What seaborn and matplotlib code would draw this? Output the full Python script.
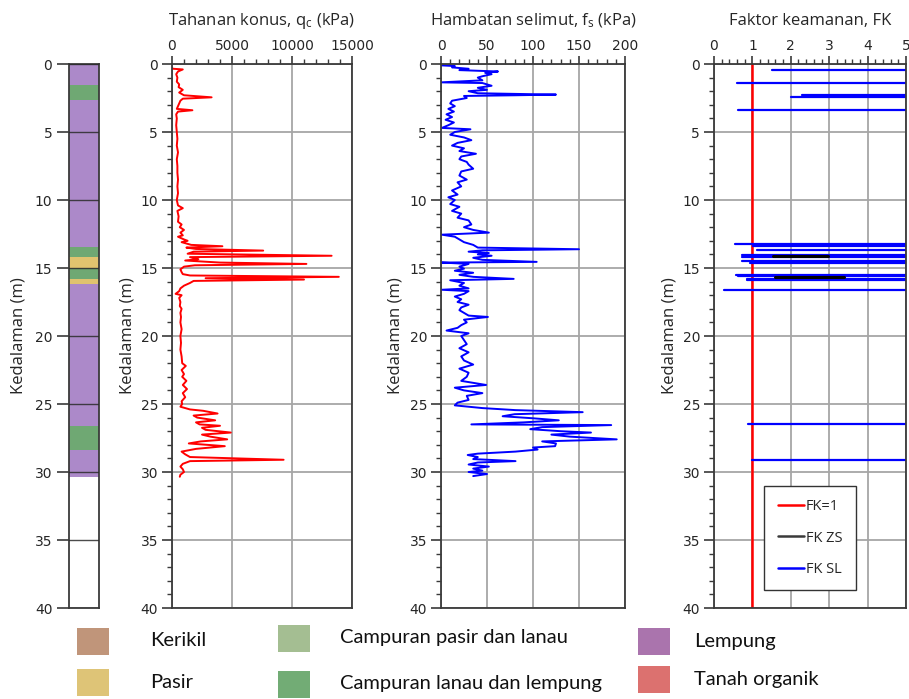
import numpy as np
import pandas as pd
import matplotlib
matplotlib.use("Agg")
import matplotlib.pyplot as plt
import seaborn as sns
from matplotlib.patches import Rectangle
from matplotlib.lines import Line2D
from matplotlib.ticker import MultipleLocator

# ---------------- data ----------------
layer_top = [0.0, 1.55, 2.65, 13.47, 14.2, 14.97, 15.8, 16.2, 26.6, 28.4]
layer_bot = [1.55, 2.65, 13.47, 14.2, 14.97, 15.8, 16.2, 26.6, 28.4, 30.4]
layer_type = ["Lempung", "Campuran lanau dan lempung", "Lempung",
              "Campuran lanau dan lempung", "Pasir", "Campuran lanau dan lempung",
              "Pasir", "Lempung", "Campuran lanau dan lempung", "Lempung"]

qc_depth = [0.30, 0.35, 0.40, 0.55, 0.75, 1.0, 1.3, 1.5, 1.7, 1.9, 2.1, 2.3, 2.45, 2.55, 2.7,
            2.9, 3.1, 3.3, 3.4, 3.5, 3.7, 4.0, 4.5, 5.0, 5.5, 6.0, 6.5, 7.0, 7.5, 8.0, 8.5,
            9.0, 9.5, 10.0, 10.4, 10.6, 10.8, 11.2, 11.6, 11.8, 12.0, 12.2, 12.4, 12.6, 12.7,
            12.9, 13.0, 13.1, 13.3, 13.4, 13.5, 13.6, 13.72, 13.8, 13.95, 14.1, 14.2, 14.35,
            14.45, 14.6, 14.7, 14.8, 14.9, 15.1, 15.3, 15.45, 15.55, 15.65, 15.75, 15.85,
            15.95, 16.1, 16.3, 16.5, 16.7, 16.9, 17.0, 17.2, 17.5, 17.8, 18.0, 18.3, 18.6,
            19.0, 19.5, 20.0, 20.5, 21.0, 21.5, 22.0, 22.2, 22.5, 22.8, 23.0, 23.3, 23.6,
            23.9, 24.2, 24.5, 24.8, 25.0, 25.2, 25.4, 25.5, 25.7, 25.85, 26.0, 26.2, 26.35,
            26.5, 26.6, 26.75, 26.9, 27.1, 27.25, 27.4, 27.6, 27.75, 27.9, 28.1, 28.3, 28.5,
            28.7, 28.9, 29.1, 29.2, 29.4, 29.6, 29.8, 30.0, 30.2, 30.35]
qc_kpa = [0, 100, 900, 500, 350, 450, 400, 600, 550, 900, 600, 1000, 3300, 900, 700,
          600, 500, 400, 1700, 500, 350, 400, 350, 400, 450, 400, 500, 400, 450, 450, 500,
          450, 500, 400, 500, 900, 450, 550, 500, 800, 650, 1000, 700, 900, 500,
          1000, 1300, 800, 1600, 4200, 1200, 2000, 7600, 1800, 1300, 13300, 1500, 2200,
          1100, 4000, 11200, 1900, 1000, 700, 800, 900, 1500, 13900, 2800, 11000,
          1800, 1500, 1000, 700, 600, 300, 800, 600, 700, 650, 800, 700, 750,
          700, 800, 700, 750, 700, 800, 850, 1150, 800, 1000, 850, 1200, 900,
          1250, 900, 1100, 800, 850, 700, 1500, 2600, 3800, 1800, 2100, 3600, 2000,
          2300, 4000, 2500, 2800, 4900, 2500, 3200, 4600, 2400, 1400, 4400, 2000, 800,
          1100, 1500, 9300, 1500, 900, 700, 900, 1000, 700, 650]

fs_depth = [0.10, 0.15, 0.25, 0.35, 0.45, 0.55, 0.65, 0.75, 0.9, 1.0, 1.2, 1.35, 1.4, 1.6,
            1.75, 1.9, 2.0, 2.15, 2.25, 2.3, 2.35, 2.5, 2.7, 2.9, 3.1, 3.3, 3.5, 3.7, 3.9,
            4.1, 4.3, 4.5, 4.7, 4.8, 5.0, 5.2, 5.4, 5.6, 5.8, 6.0, 6.2, 6.4, 6.6, 6.8, 7.0,
            7.2, 7.4, 7.7, 7.9, 8.2, 8.5, 8.7, 9.0, 9.3, 9.6, 9.8, 10.0, 10.3, 10.5, 10.8,
            11.0, 11.3, 11.5, 11.8, 12.0, 12.2, 12.4, 12.55, 12.7, 12.9, 13.1, 13.3, 13.5,
            13.62, 13.7, 13.8, 13.9, 14.0, 14.1, 14.25, 14.4, 14.55, 14.6, 14.7, 14.9,
            15.05, 15.2, 15.35, 15.5, 15.65, 15.8, 15.9, 16.1, 16.3, 16.5, 16.6, 16.7,
            16.9, 17.1, 17.3, 17.5, 17.7, 17.9, 18.1, 18.3, 18.5, 18.6, 18.8, 19.0, 19.2,
            19.4, 19.6, 19.8, 20.0, 20.3, 20.6, 20.9, 21.2, 21.5, 21.8, 22.1, 22.4, 22.7,
            23.0, 23.3, 23.6, 23.8, 24.0, 24.2, 24.4, 24.7, 24.9, 25.1, 25.3, 25.45, 25.6,
            25.75, 25.9, 26.05, 26.2, 26.35, 26.5, 26.55, 26.7, 26.85, 27.0, 27.1, 27.25,
            27.4, 27.6, 27.75, 27.9, 28.1, 28.2, 28.35, 28.5, 28.65, 28.75, 28.9, 29.05,
            29.2, 29.3, 29.45, 29.6, 29.75, 29.9, 30.0, 30.15, 30.3]
fs_kpa = [0, 15, 12, 30, 20, 62, 48, 55, 45, 40, 45, 0, 45, 55,
          40, 50, 30, 40, 125, 80, 25, 28, 12, 10, 15, 8, 14, 6, 12,
          5, 14, 8, 1, 32, 15, 10, 25, 33, 18, 12, 25, 20, 38, 22, 20,
          28, 30, 35, 22, 20, 28, 18, 22, 12, 18, 8, 15, 10, 20, 12,
          22, 18, 30, 33, 25, 35, 52, 1, 15, 20, 25, 35, 40,
          150, 45, 30, 52, 40, 55, 35, 45, 104, 1, 30, 20,
          25, 15, 35, 20, 35, 79, 10, 25, 20, 30, 1, 30,
          25, 15, 22, 18, 30, 22, 20, 25, 30, 51, 25, 28, 22,
          18, 6, 30, 22, 25, 28, 20, 30, 22, 25, 35, 20, 30,
          28, 22, 49, 15, 25, 45, 28, 30, 18, 15, 45, 81, 154,
          80, 67, 100, 128, 90, 33, 185, 110, 97, 130, 163, 120,
          140, 191, 110, 125, 124, 100, 105, 81, 40, 29, 40, 35,
          81, 40, 30, 52, 35, 45, 30, 50, 35]

fk_sl_depth = [0.42, 1.42, 2.30, 2.40, 3.38, 13.21, 13.41, 13.65, 14.07, 14.20, 14.50,
               14.62, 15.50, 15.60, 15.80, 15.88, 16.62, 26.50, 29.15]
fk_sl_min = [1.50, 0.59, 2.30, 2.00, 0.63, 0.54, 1.02, 1.12, 0.74, 0.72, 0.73,
             0.94, 0.57, 0.62, 0.85, 0.85, 0.26, 0.89, 1.00]
fk_zs_depth = [14.10, 15.63]
fk_zs_min = [1.54, 1.58]
fk_zs_max = [2.96, 3.39]
fk_limit = 1.0

legend_names = ["Kerikil", "Pasir", "Campuran pasir dan lanau",
                "Campuran lanau dan lempung", "Lempung", "Tanah organik"]
legend_colors = ["#C0957A", "#DEC477", "#A4BE92", "#72AC75", "#AA74AD", "#DC716F"]
column_colors = {"Lempung": "#AC89C9", "Campuran lanau dan lempung": "#6FA873",
                 "Pasir": "#E0C36F"}

# ---------------- style ----------------
sns.set_theme(style="white")
plt.rcParams["font.family"] = ["Open Sans", "DejaVu Sans"]
plt.rcParams["mathtext.fontset"] = "custom"
plt.rcParams["mathtext.rm"] = "Open Sans"
plt.rcParams["mathtext.it"] = "Open Sans:italic"

W, H = 909, 699
fig = plt.figure(figsize=(W / 100, H / 100), dpi=100)
TOP, BOT = 64, 608

def add_ax(left, right):
    return fig.add_axes([left / W, 1 - BOT / H, (right - left) / W, (BOT - TOP) / H])

SPINE = "#3a3a3a"
TICK_FS = 10
LABEL_FS = 12

def style_depth_axis(ax, minor=True):
    ax.set_ylim(40, 0)
    ax.yaxis.set_major_locator(MultipleLocator(5))
    if minor:
        ax.yaxis.set_minor_locator(MultipleLocator(1))
    for s in ax.spines.values():
        s.set_color(SPINE)
        s.set_linewidth(1.3)
        s.set_visible(True)
    ax.tick_params(axis="y", which="major", direction="out", length=7, width=1.2,
                   color=SPINE, left=True, labelleft=True, pad=3)
    ax.tick_params(axis="y", which="minor", direction="out", length=3.5, width=1.0,
                   color=SPINE, left=True)
    for lab in ax.get_yticklabels():
        lab.set_fontfamily("DejaVu Sans")
        lab.set_fontsize(TICK_FS)
    ax.set_ylabel("Kedalaman (m)", fontsize=LABEL_FS)

def style_top_x(ax, xmax, major, minor, title):
    ax.set_xlim(0, xmax)
    ax.xaxis.set_major_locator(MultipleLocator(major))
    ax.xaxis.set_minor_locator(MultipleLocator(minor))
    ax.xaxis.tick_top()
    ax.tick_params(axis="x", which="major", direction="out", length=6, width=1.2,
                   color=SPINE, top=True, bottom=False, labeltop=True,
                   labelbottom=False, pad=2)
    ax.tick_params(axis="x", which="minor", direction="out", length=3.5, width=1.0,
                   color=SPINE, top=True, bottom=False)
    for lab in ax.get_xticklabels():
        lab.set_fontfamily("DejaVu Sans")
        lab.set_fontsize(TICK_FS)
    ax.xaxis.set_label_position("top")
    ax.set_xlabel(title, fontsize=LABEL_FS)
    ax.xaxis.set_label_coords(0.5, 1 + (TOP - 25) / (BOT - TOP))
    ax.grid(True, which="major", color="#a6a6a6", linewidth=1.3)
    ax.set_axisbelow(True)

# ---------------- soil column ----------------
ax0 = add_ax(69, 99)
for t, b, kind in zip(layer_top, layer_bot, layer_type):
    ax0.bar(0.5, b - t, bottom=t, width=1.0, color=column_colors[kind],
            linewidth=0, zorder=1)
ax0.set_xlim(0, 1)
ax0.set_xticks([])
style_depth_axis(ax0, minor=False)
ax0.tick_params(axis="y", which="major", length=9)
ax0.grid(True, axis="y", color="#2b2b2b", linewidth=1.0, alpha=0.85)
ax0.grid(False, axis="x")
ax0.set_axisbelow(False)
ax0.yaxis.set_label_coords((27 - 69) / 30, 0.5)

# ---------------- qc ----------------
ax1 = add_ax(172, 352)
sns.lineplot(x=qc_kpa, y=qc_depth, sort=False, estimator=None, orient="y",
             color="#ff0000", linewidth=1.4, ax=ax1)
style_top_x(ax1, 15000, 5000, 1000, r"Tahanan konus, q$_\mathregular{c}$ (kPa)")
style_depth_axis(ax1)
ax1.yaxis.set_label_coords((136 - 172) / 180, 0.5)

# ---------------- fs ----------------
ax2 = add_ax(441, 625)
sns.lineplot(x=fs_kpa, y=fs_depth, sort=False, estimator=None, orient="y",
             color="#0000ff", linewidth=1.4, ax=ax2)
style_top_x(ax2, 200, 50, 10, r"Hambatan selimut, f$_\mathregular{s}$ (kPa)")
style_depth_axis(ax2)
ax2.yaxis.set_label_coords((403 - 441) / 184, 0.5)

# ---------------- FK ----------------
ax3 = add_ax(714, 906)
style_top_x(ax3, 5, 1, 0.2, "Faktor keamanan, FK")
cap = ax3.get_xlim()[1] + 1
sl = pd.DataFrame({
    "fk": list(fk_sl_min) + [cap] * len(fk_sl_min),
    "depth": list(fk_sl_depth) * 2,
    "seg": list(range(len(fk_sl_min))) * 2,
})
zs = pd.DataFrame({
    "fk": list(fk_zs_min) + list(fk_zs_max),
    "depth": list(fk_zs_depth) * 2,
    "seg": list(range(len(fk_zs_min))) * 2,
})
lim = pd.DataFrame({"fk": [fk_limit, fk_limit], "depth": [0, 40]})
sns.lineplot(data=lim, x="fk", y="depth", sort=False, estimator=None, orient="y",
             color="#ff0000", linewidth=1.8, ax=ax3)
sns.lineplot(data=sl, x="fk", y="depth", units="seg", sort=False, estimator=None,
             color="#0000ff", linewidth=1.6, ax=ax3)
sns.lineplot(data=zs, x="fk", y="depth", units="seg", sort=False, estimator=None,
             color="#000000", linewidth=2.2, ax=ax3)
ax3.set_xlim(0, 5)
style_depth_axis(ax3)
ax3.yaxis.set_label_coords((677 - 714) / 192, 0.5)
handles = [Line2D([], [], color="#ff0000", lw=1.8),
           Line2D([], [], color="#3a3a3a", lw=1.8),
           Line2D([], [], color="#0000ff", lw=1.8)]
leg = ax3.legend(handles, ["FK=1", "FK ZS", "FK SL"], loc="center",
                 bbox_to_anchor=((810 - 714) / 192, (608 - 538) / 544),
                 frameon=True, fancybox=False, edgecolor="#333333", fontsize=10.5,
                 labelspacing=1.15, borderpad=0.9, handlelength=1.8,
                 handletextpad=0.15, borderaxespad=0)
leg.get_frame().set_linewidth(1.0)
leg.get_frame().set_facecolor("white")
leg.get_frame().set_alpha(1)

# ---------------- soil legend ----------------
items = [  # (swatch_left, text_left, y_center)
    (77, 150, 641), (77, 150, 682),
    (278, 340, 638), (278, 340, 684),
    (638, 694, 641), (638, 694, 679),
]
for (sx, tx, yc), name, col in zip(items, legend_names, legend_colors):
    fig.patches.append(Rectangle((sx / W, 1 - (yc + 13.5) / H), 32 / W, 27 / H,
                                 transform=fig.transFigure, facecolor=col,
                                 edgecolor="none"))
    fig.text(tx / W, 1 - yc / H, name, ha="left", va="center", fontsize=14.5,
             family=["Lato", "DejaVu Sans"], color="#111111")

fig.savefig("out.png", dpi=100)
